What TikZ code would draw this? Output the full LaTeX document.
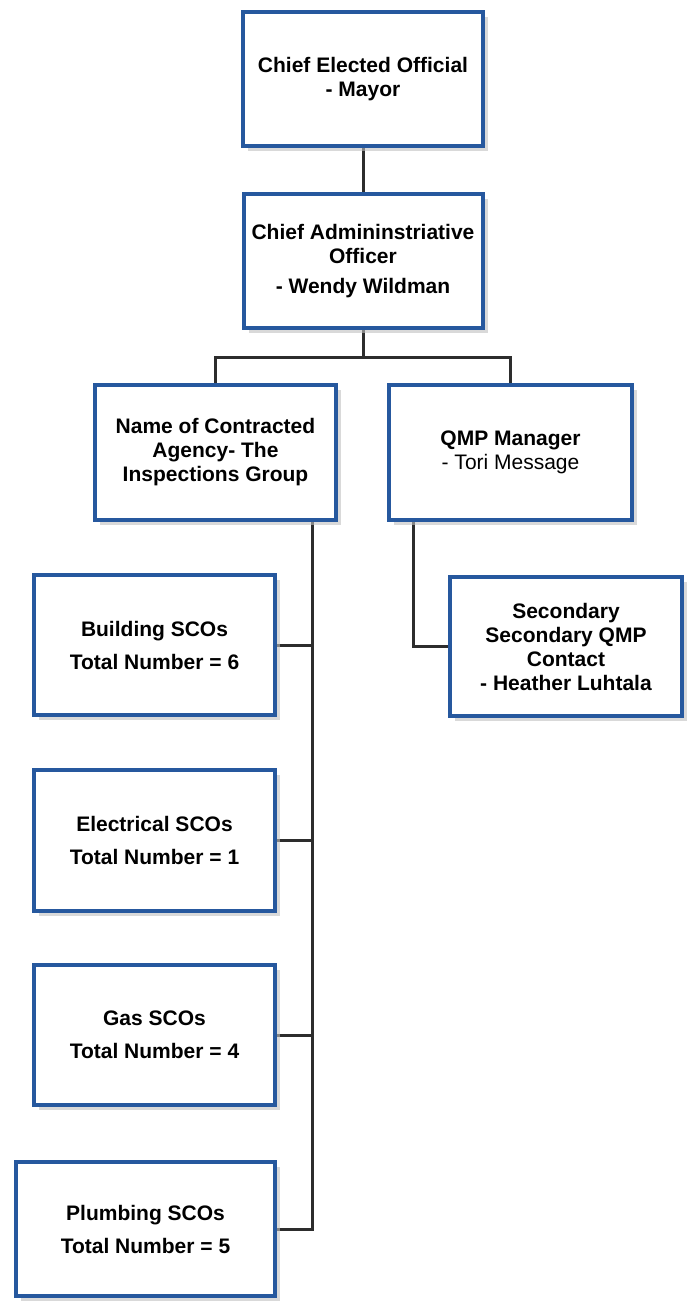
\documentclass[tikz,border=0pt]{standalone}
\usepackage{fontspec}
\setmainfont{Liberation Sans}
\usetikzlibrary{shadows,backgrounds}

\begin{document}
\begin{tikzpicture}[x=1pt,y=-1pt]
  % Colors
  \definecolor{boxblue}{RGB}{38,88,158}
  \definecolor{linegray}{RGB}{45,45,45}

  % Styles
  \tikzstyle{office}=[draw=boxblue,line width=4pt,fill=white,align=center,
    font=\fontsize{21}{24}\selectfont\bfseries,
    drop shadow={shadow xshift=5pt,shadow yshift=-5pt,fill=black!25,opacity=0.6}]
  \tikzstyle{link}=[draw=linegray,line width=3pt]

  \useasboundingbox (0,0) rectangle (686,1304);

  % The boxes
  \node[office,minimum width=240pt,minimum height=134pt] (mayor) at (363,79)
    {Chief Elected Official\\- Mayor};
  \node[office,minimum width=239pt,minimum height=134pt] (cao) at (363,261)
    {Chief Admininstriative\\Officer\\[6pt]- Wendy Wildman};
  \node[office,minimum width=241pt,minimum height=135pt] (agency) at (215.5,452.5)
    {Name of Contracted\\Agency- The\\Inspections Group};
  \node[office,minimum width=243pt,minimum height=135pt] (qmp) at (510.5,452.5)
    {QMP Manager\\{\mdseries - Tori Message}};
  \node[office,minimum width=232pt,minimum height=139pt] (secondary) at (566,646.5)
    {Secondary\\Secondary QMP\\Contact\\- Heather Luhtala};
  \node[office,minimum width=241pt,minimum height=140pt] (building) at (154.5,645)
    {Building SCOs\\[9pt]Total Number = 6};
  \node[office,minimum width=241pt,minimum height=141pt] (electrical) at (154.5,840.5)
    {Electrical SCOs\\[9pt]Total Number = 1};
  \node[office,minimum width=241pt,minimum height=140pt] (gas) at (154.5,1035)
    {Gas SCOs\\[9pt]Total Number = 4};
  \node[office,minimum width=259pt,minimum height=134pt] (plumbing) at (145.5,1229)
    {Plumbing SCOs\\[9pt]Total Number = 5};

  % Lines
  \coordinate (trunk) at (312,0);
  \coordinate (qmpdrop) at (413,0);
  \begin{scope}[on background layer]
    \draw[link] (mayor) -- (cao);
    \draw[link] (cao.south) -- ++(0,27) coordinate (bus);
    \draw[link] (agency.north) |- (bus) -| (qmp.north);
    \draw[link] (agency.south -| trunk) |- (plumbing.east);
    \foreach \n in {building,electrical,gas}
      \draw[link] (trunk |- \n.east) -- (\n.east);
    \draw[link] (qmp.south -| qmpdrop) |- (secondary.west);
  \end{scope}

\end{tikzpicture}
\end{document}
